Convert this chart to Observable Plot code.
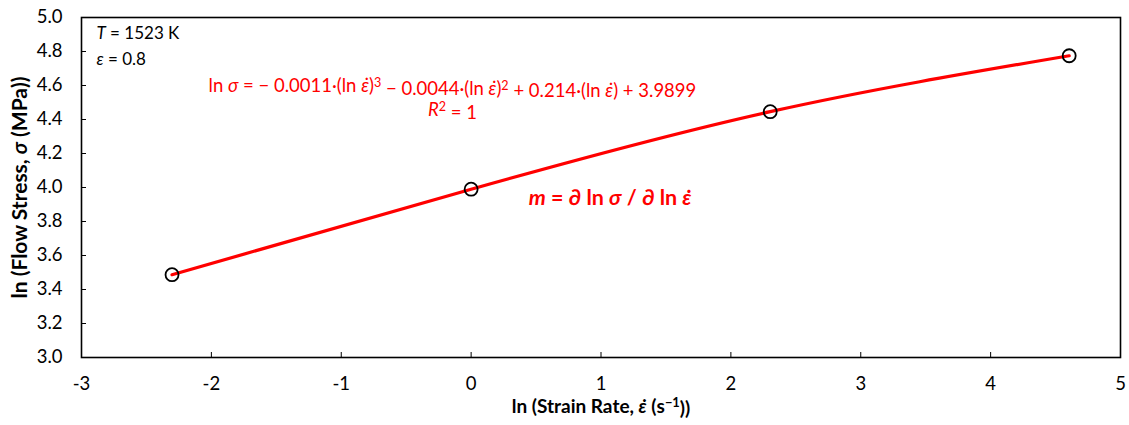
<!DOCTYPE html>
<html><head><meta charset="utf-8">
<script src="https://cdn.jsdelivr.net/npm/d3@7"></script>
<script src="https://cdn.jsdelivr.net/npm/@observablehq/plot@0.6"></script>
<style>
body{margin:0;background:#fff}
#chart svg{font-family:Lato,"Noto Sans",sans-serif;overflow:visible}
</style>
</head><body><div id="chart"></div>
<script>
// ln(strain rate) for 0.1, 1, 10, 100 s^-1 and measured ln(flow stress)
const lnStrainRate = [-2.303, 0, 2.303, 4.605];
const lnFlowStress = [3.487, 3.990, 4.446, 4.775];
const xTicks = [-3, -2, -1, 0, 1, 2, 3, 4, 5];
const yTicks = [3.0, 3.2, 3.4, 3.6, 3.8, 4.0, 4.2, 4.4, 4.6, 4.8, 5.0];

const pts = lnStrainRate.map((x, i) => ({x, y: lnFlowStress[i]}));

const red = "#ff0000";
const plot = Plot.plot({
  width: 1129,
  height: 425,
  marginLeft: 81,
  marginRight: 9,
  marginTop: 17,
  marginBottom: 68,
  style: {fontSize: "18px", color: "#000", background: "#fff"},
  x: {domain: [-3, 5]},
  y: {domain: [3.0, 5.0]},
  marks: [
    Plot.frame({stroke: "#000", strokeWidth: 1.6}),
    Plot.axisX(xTicks, {anchor: "bottom", tickSize: -5, tickPadding: 24, tickFormat: d => String(d), label: null, fontSize: 18.5}),
    Plot.axisY(yTicks, {anchor: "left", tickSize: -5, tickPadding: 24, tickFormat: d => d.toFixed(1), label: null, fontSize: 18.5}),
    Plot.line(pts, {x: "x", y: "y", curve: "natural", stroke: red, strokeWidth: 3.2}),
    Plot.dot(pts, {x: "x", y: "y", r: 6.5, stroke: "#000", strokeWidth: 1.8, fill: "none"}),
    Plot.text(["@T"], {x: -2.885, y: 4.906, textAnchor: "start", fontSize: 17, fill: "#000"}),
    Plot.text(["@E"], {x: -2.885, y: 4.753, textAnchor: "start", fontSize: 17, fill: "#000"}),
    Plot.text(["@EQ"], {x: -0.144, y: 4.594, fontSize: 18.5, fill: red}),
    Plot.text(["@R2"], {x: -0.144, y: 4.453, fontSize: 18.5, fill: red}),
    Plot.text(["@M"], {x: 1.07, y: 3.935, fontSize: 21.5, fontWeight: "bold", fill: red}),
    Plot.text(["@XL"], {frameAnchor: "bottom", dy: 55, fontSize: 19, fontWeight: "bold", fill: "#000"}),
    Plot.text(["@YL"], {frameAnchor: "left", textAnchor: "middle", dx: -61, rotate: -90, fontSize: 21, fontWeight: "bold", fill: "#000"})
  ]
});

const ed = 'ε̇';
const it = s => `<tspan font-style="italic">${s}</tspan>`;
const sup = s => `<tspan dy="-0.42em" font-size="0.68em">${s}</tspan><tspan dy="0.42em">`;
const rich = {
  "@T": `${it("T")} = 1523 K`,
  "@E": `${it("ε")} = 0.8`,
  "@EQ": `ln ${it("σ")} = − 0.0011·(ln ${it(ed)})${sup("3")} − 0.0044·(ln ${it(ed)})${sup("2")} + 0.214·(ln ${it(ed)}) + 3.9899</tspan></tspan>`,
  "@R2": `${it("R")}${sup("2")} = 1</tspan>`,
  "@M": `${it("m")} = ∂ ln ${it("σ")} / ∂ ln ${it(ed)}`,
  "@XL": `ln (Strain Rate, ${it(ed)} (s${sup("−1")}))</tspan>`,
  "@YL": `ln (Flow Stress, ${it("σ")} (MPa))`
};
plot.querySelectorAll("text").forEach(t => {
  const k = t.textContent;
  if (rich[k]) t.innerHTML = rich[k];
});

document.getElementById("chart").appendChild(plot);
</script>
</body></html>
